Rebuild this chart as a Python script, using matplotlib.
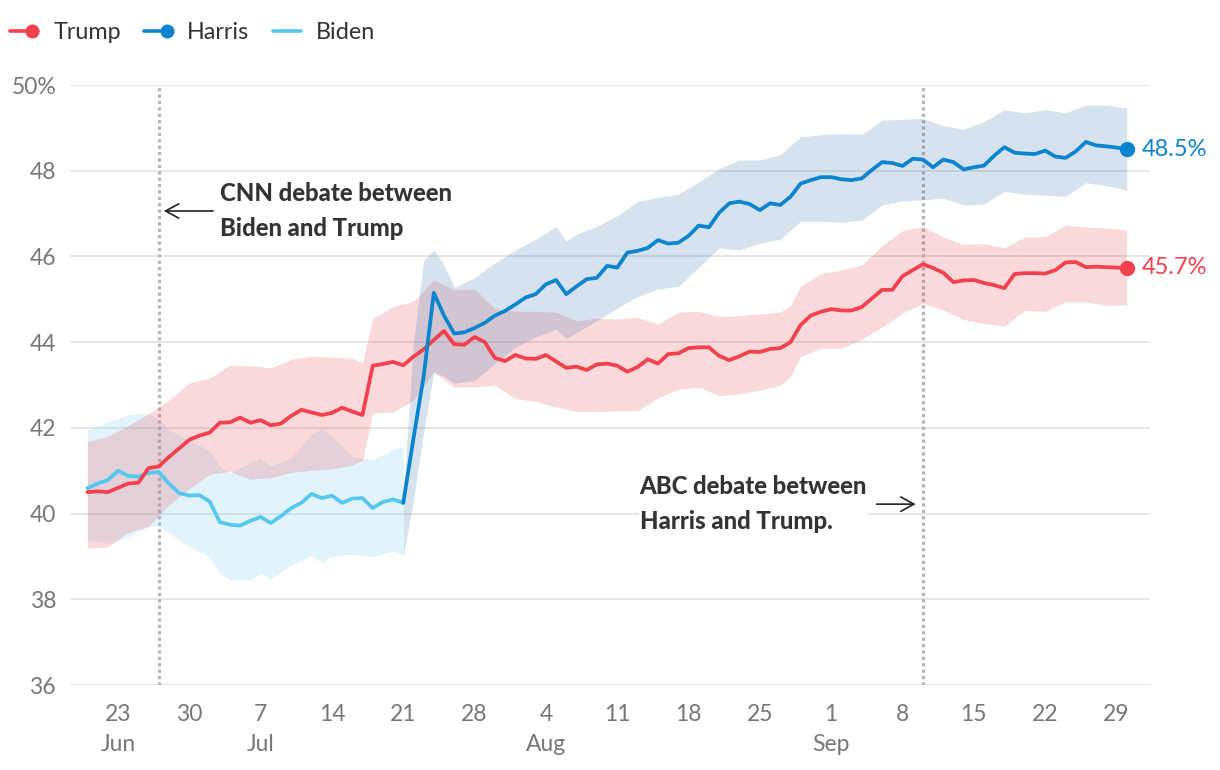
import numpy as np
import pandas as pd
import matplotlib
matplotlib.use("Agg")
import matplotlib.pyplot as plt
from matplotlib.lines import Line2D
from matplotlib.legend_handler import HandlerBase

plt.rcParams['font.family'] = ['Lato', 'DejaVu Sans']

# ---- data (polling averages, %) ----
trump_dates = pd.date_range('2024-06-20', '2024-09-30')
trump = [40.50, 40.52, 40.50, 40.60, 40.70, 40.72, 41.06, 41.10, 41.32, 41.52,
         41.72, 41.82, 41.89, 42.12, 42.13, 42.24, 42.12, 42.18, 42.06, 42.10,
         42.28, 42.42, 42.36, 42.30, 42.35, 42.47, 42.38, 42.30, 43.45, 43.49,
         43.54, 43.46, 43.66, 43.83, 44.05, 44.26, 43.95, 43.94, 44.12, 44.00,
         43.63, 43.56, 43.70, 43.62, 43.61, 43.70, 43.55, 43.40, 43.43, 43.35,
         43.48, 43.50, 43.45, 43.31, 43.42, 43.60, 43.50, 43.72, 43.74, 43.86,
         43.88, 43.88, 43.68, 43.58, 43.67, 43.78, 43.77, 43.84, 43.86, 44.00,
         44.40, 44.62, 44.71, 44.77, 44.74, 44.74, 44.82, 45.02, 45.22, 45.22,
         45.54, 45.68, 45.82, 45.73, 45.62, 45.40, 45.44, 45.45, 45.38, 45.33,
         45.26, 45.59, 45.61, 45.61, 45.60, 45.68, 45.86, 45.87, 45.75, 45.76,
         45.75, 45.74, 45.73]

biden_dates = pd.date_range('2024-06-20', '2024-07-21')
biden = [40.59, 40.70, 40.78, 41.00, 40.88, 40.86, 40.95, 40.97, 40.70, 40.48,
         40.42, 40.43, 40.28, 39.80, 39.74, 39.72, 39.83, 39.92, 39.78, 39.94,
         40.13, 40.25, 40.46, 40.36, 40.42, 40.25, 40.35, 40.36, 40.13, 40.27,
         40.33, 40.25]

harris_dates = pd.date_range('2024-07-21', '2024-09-30')
harris = [40.25, 41.75, 43.20, 45.15, 44.62, 44.20, 44.23, 44.33, 44.45, 44.62,
          44.73, 44.88, 45.04, 45.12, 45.35, 45.45, 45.12, 45.30, 45.47, 45.50,
          45.78, 45.74, 46.09, 46.13, 46.20, 46.38, 46.30, 46.32, 46.48, 46.72,
          46.68, 47.02, 47.24, 47.28, 47.22, 47.08, 47.24, 47.20, 47.39, 47.70,
          47.78, 47.85, 47.85, 47.80, 47.78, 47.82, 48.02, 48.20, 48.18, 48.11,
          48.28, 48.26, 48.08, 48.26, 48.20, 48.03, 48.08, 48.12, 48.35, 48.55,
          48.42, 48.40, 48.39, 48.47, 48.33, 48.30, 48.45, 48.67, 48.59, 48.57,
          48.54, 48.50]

# uncertainty bands
trump_band_dates = ['2024-06-20', '2024-06-22', '2024-06-24', '2024-06-26', '2024-06-28', '2024-06-30',
                    '2024-07-02', '2024-07-04', '2024-07-06', '2024-07-08', '2024-07-10', '2024-07-12',
                    '2024-07-14', '2024-07-16', '2024-07-17', '2024-07-18', '2024-07-20', '2024-07-22',
                    '2024-07-24', '2024-07-26', '2024-07-28', '2024-07-30', '2024-08-01', '2024-08-03',
                    '2024-08-05', '2024-08-07', '2024-08-09', '2024-08-11', '2024-08-13', '2024-08-15',
                    '2024-08-17', '2024-08-19', '2024-08-21', '2024-08-23', '2024-08-25', '2024-08-27',
                    '2024-08-28', '2024-08-29', '2024-08-31', '2024-09-02', '2024-09-04', '2024-09-06',
                    '2024-09-08', '2024-09-10', '2024-09-12', '2024-09-14', '2024-09-16', '2024-09-18',
                    '2024-09-20', '2024-09-22', '2024-09-24', '2024-09-26', '2024-09-28', '2024-09-30']
trump_lo = [39.19, 39.22, 39.56, 39.70, 40.20, 40.58, 40.92, 40.98, 40.80, 40.84,
            40.96, 41.01, 41.04, 41.13, 41.24, 42.35, 42.37, 42.65, 43.30, 42.95,
            42.95, 43.00, 42.68, 42.62, 42.49, 42.38, 42.38, 42.40, 42.40, 42.70,
            42.90, 42.95, 42.75, 42.80, 42.88, 43.00, 43.20, 43.66, 43.86, 43.86,
            44.07, 44.35, 44.68, 44.90, 44.75, 44.53, 44.43, 44.38, 44.74, 44.72,
            44.94, 44.94, 44.86, 44.87]
trump_hi = [41.68, 41.80, 42.05, 42.33, 42.65, 43.05, 43.16, 43.46, 43.45, 43.40,
            43.60, 43.67, 43.65, 43.62, 43.52, 44.55, 44.83, 44.95, 45.45, 45.22,
            45.24, 44.78, 44.72, 44.72, 44.70, 44.50, 44.56, 44.54, 44.58, 44.42,
            44.70, 44.72, 44.60, 44.62, 44.66, 44.70, 44.85, 45.30, 45.60, 45.68,
            45.80, 46.25, 46.60, 46.70, 46.45, 46.28, 46.30, 46.20, 46.45, 46.46,
            46.73, 46.69, 46.66, 46.62]

harris_band_dates = ['2024-07-21', '2024-07-22', '2024-07-23', '2024-07-24', '2024-07-25', '2024-07-26',
                     '2024-07-28', '2024-07-30', '2024-08-01', '2024-08-03', '2024-08-05', '2024-08-06',
                     '2024-08-07', '2024-08-09', '2024-08-11', '2024-08-13', '2024-08-15', '2024-08-17',
                     '2024-08-19', '2024-08-21', '2024-08-23', '2024-08-25', '2024-08-27', '2024-08-29',
                     '2024-08-31', '2024-09-02', '2024-09-04', '2024-09-06', '2024-09-08', '2024-09-10',
                     '2024-09-12', '2024-09-14', '2024-09-16', '2024-09-18', '2024-09-20', '2024-09-22',
                     '2024-09-24', '2024-09-26', '2024-09-28', '2024-09-30']
harris_lo = [39.00, 40.30, 41.90, 43.30, 43.20, 43.04, 43.10, 43.50, 43.88, 44.12,
             44.30, 44.08, 44.22, 44.50, 44.80, 45.06, 45.24, 45.30, 45.75, 46.20,
             46.15, 46.31, 46.40, 46.82, 46.82, 46.80, 46.85, 47.20, 47.30, 47.32,
             47.36, 47.20, 47.22, 47.52, 47.45, 47.43, 47.40, 47.72, 47.65, 47.55]
harris_hi = [40.40, 44.00, 45.90, 46.15, 45.80, 45.28, 45.50, 45.85, 46.15, 46.40,
             46.70, 46.35, 46.52, 46.70, 46.95, 47.28, 47.38, 47.45, 47.74, 48.05,
             48.25, 48.25, 48.38, 48.79, 48.84, 48.86, 48.85, 49.18, 49.20, 49.22,
             49.05, 48.97, 49.15, 49.42, 49.35, 49.42, 49.35, 49.53, 49.53, 49.46]

biden_band_dates = ['2024-06-20', '2024-06-22', '2024-06-24', '2024-06-26', '2024-06-27', '2024-06-28',
                    '2024-06-30', '2024-07-02', '2024-07-03', '2024-07-04', '2024-07-06', '2024-07-07',
                    '2024-07-08', '2024-07-10', '2024-07-12', '2024-07-13', '2024-07-14', '2024-07-16',
                    '2024-07-18', '2024-07-20', '2024-07-21']
biden_lo = [39.38, 39.30, 39.46, 39.70, 39.72, 39.55, 39.22, 38.99, 38.62, 38.45,
            38.45, 38.60, 38.48, 38.80, 39.02, 38.85, 39.00, 39.05, 39.00, 39.12, 39.03]
biden_hi = [41.95, 42.14, 42.30, 42.34, 42.20, 41.95, 41.72, 41.45, 41.10, 40.94,
            41.20, 41.29, 41.10, 41.30, 41.85, 41.98, 41.80, 41.33, 41.25, 41.50, 41.56]

debates = ['2024-06-27', '2024-09-10']
tick_dates = pd.date_range('2024-06-23', '2024-09-29', freq='7D')
yticks = [36, 38, 40, 42, 44, 46, 48, 50]

RED = '#F2404C'
BLUE = '#0A84CF'
LIGHT = '#55C8F0'

fig = plt.figure(figsize=(12.2, 7.7), dpi=100)
ax = fig.add_axes([70 / 1220, 1 - 685 / 770, 1080 / 1220, 600 / 770])

for d in debates:
    ax.plot([pd.Timestamp(d)] * 2, [36, 50], color='#b5b5b5', lw=2.3,
            ls=(0, (1.0, 1.0)), zorder=1.5)

ax.fill_between(pd.to_datetime(biden_band_dates), biden_lo, biden_hi,
                color='#7fd0f0', alpha=0.22, lw=0, zorder=2)
ax.fill_between(pd.to_datetime(trump_band_dates), trump_lo, trump_hi,
                color='#E8414F', alpha=0.2, lw=0, zorder=2)
ax.fill_between(pd.to_datetime(harris_band_dates), harris_lo, harris_hi,
                color='#4682B4', alpha=0.22, lw=0, zorder=2)

line_kw = dict(lw=2.7, solid_capstyle='round', solid_joinstyle='round')
ax.plot(biden_dates, biden, color=LIGHT, zorder=3, **line_kw)
ax.plot(trump_dates, trump, color=RED, zorder=3, **line_kw)
ax.plot(harris_dates, harris, color=BLUE, zorder=4, **line_kw)
ax.plot(trump_dates[-1:], trump[-1:], 'o', color=RED, ms=10, zorder=5)
ax.plot(harris_dates[-1:], harris[-1:], 'o', color=BLUE, ms=10, zorder=5)

ax.annotate(f'{harris[-1]:.1f}%', xy=(harris_dates[-1], harris[-1]), xytext=(11, 0),
            textcoords='offset points', va='center', ha='left', color=BLUE, fontsize=17)
ax.annotate(f'{trump[-1]:.1f}%', xy=(trump_dates[-1], trump[-1]), xytext=(11, 0),
            textcoords='offset points', va='center', ha='left', color=RED, fontsize=17)

# annotations
arrow = dict(arrowstyle='->,head_length=0.55,head_width=0.3', color='#222222', lw=1.2,
             shrinkA=4, shrinkB=0)
note_kw = dict(ha='left', va='center', fontsize=17.2, fontweight='black', color='#333333',
               linespacing=1.62, zorder=6,
               bbox=dict(boxstyle='square,pad=0.05', fc='white', ec='none'))
ax.annotate('CNN debate between\nBiden and Trump',
            xy=(pd.Timestamp('2024-06-27') + pd.Timedelta(hours=12), 47.06),
            xytext=(pd.Timestamp('2024-07-03'), 47.06),
            arrowprops=dict(arrow, relpos=(0, 0.5)), **note_kw)
ax.annotate('ABC debate between\nHarris and Trump.',
            xy=(pd.Timestamp('2024-09-09') + pd.Timedelta(hours=7), 40.22),
            xytext=(pd.Timestamp('2024-08-13') + pd.Timedelta(hours=5), 40.22),
            arrowprops=dict(arrow, relpos=(1, 0.5), shrinkA=6), **note_kw)

# axes styling
ax.set_ylim(36, 50)
ax.set_xlim(pd.Timestamp('2024-06-18') + pd.Timedelta(hours=7),
            pd.Timestamp('2024-10-02') + pd.Timedelta(hours=7))
ax.set_yticks(yticks)
ax.set_yticklabels([f'{v}%' if v == 50 else str(v) for v in yticks])
ax.set_xticks(tick_dates)
labels = []
prev_month = None
for t in tick_dates:
    if t.month != prev_month:
        labels.append(f'{t.day}\n{t.strftime("%b")}')
        prev_month = t.month
    else:
        labels.append(str(t.day))
ax.set_xticklabels(labels)
for lab in ax.get_xticklabels():
    lab.set_linespacing(1.5)
ax.tick_params(axis='both', length=0, labelsize=16.5, labelcolor='#777777')
ax.tick_params(axis='y', pad=10)
ax.tick_params(axis='x', pad=14)
ax.grid(axis='y', color='#e2e2e2', lw=1.2, zorder=0)
ax.set_axisbelow(True)
for s in ax.spines.values():
    s.set_visible(False)


class EndDot(HandlerBase):
    def create_artists(self, legend, orig, xd, yd, w, h, fontsize, trans):
        y = h / 2 - yd
        arts = [Line2D([-xd, w - xd], [y, y], color=orig.get_color(), lw=orig.get_linewidth(),
                       transform=trans, solid_capstyle='round')]
        if orig.get_marker() not in (None, 'None', '', ' '):
            arts.append(Line2D([w - xd - 4], [y], marker='o', ms=orig.get_markersize(), ls='none',
                               color=orig.get_color(), transform=trans))
        return arts


handles = [Line2D([], [], color=RED, lw=2.6, marker='o', ms=9),
           Line2D([], [], color=BLUE, lw=2.6, marker='o', ms=9),
           Line2D([], [], color=LIGHT, lw=2.6)]
fig.legend(handles, ['Trump', 'Harris', 'Biden'], loc='upper left',
           bbox_to_anchor=(10 / 1220, 1 - 22 / 770), ncol=3, frameon=False,
           fontsize=16.8, handlelength=1.2, handletextpad=0.65, columnspacing=1.0,
           borderpad=0, borderaxespad=0, labelcolor='#333333',
           handler_map={Line2D: EndDot()})

fig.savefig('out.png', dpi=100)
